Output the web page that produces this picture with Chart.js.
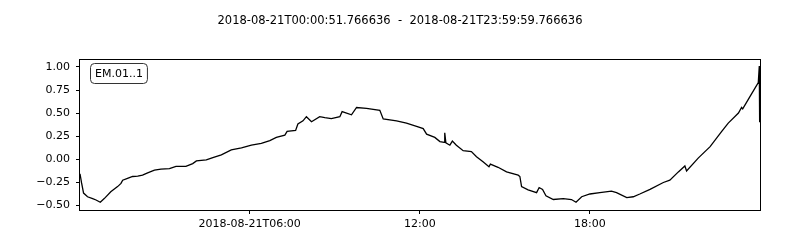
<!DOCTYPE html>
<html><head><meta charset="utf-8">
<script src="https://cdn.jsdelivr.net/npm/chart.js@4"></script>
<style>html,body{margin:0;padding:0;background:#fff}#wrap{width:800px;height:250px}</style>
</head><body><div id="wrap"><canvas id="c" width="800" height="250"></canvas></div>
<script>
const titleText = "2018-08-21T00:00:51.766636  -  2018-08-21T23:59:59.766636";
const traceLabel = "EM.01..1";
const hours = [0.0144,0.07,0.14,0.28,0.46,0.58,0.73,0.87,1.10,1.34,1.46,1.52,1.69,1.87,2.05,2.22,2.40,2.64,2.87,3.17,3.40,3.75,3.99,4.12,4.47,4.70,5.00,5.35,5.71,6.06,6.41,6.71,6.94,7.24,7.32,7.62,7.70,7.88,8.00,8.18,8.47,8.65,8.88,9.18,9.26,9.59,9.77,10.12,10.59,10.71,11.18,11.53,11.94,12.12,12.24,12.53,12.71,12.86,12.88,12.92,13.06,13.15,13.29,13.53,13.82,14.00,14.23,14.44,14.49,14.76,15.06,15.47,15.53,15.59,15.82,16.12,16.21,16.33,16.45,16.71,17.06,17.35,17.51,17.71,18.00,18.35,18.76,18.94,19.30,19.53,19.76,20.12,20.59,20.82,21.12,21.35,21.41,21.82,22.24,22.65,22.88,23.24,23.35,23.39,23.65,23.94,23.975,23.985,23.99];
const values = [-0.16,-0.26,-0.37,-0.41,-0.43,-0.445,-0.47,-0.43,-0.355,-0.30,-0.265,-0.23,-0.21,-0.19,-0.185,-0.175,-0.15,-0.12,-0.11,-0.105,-0.08,-0.08,-0.05,-0.02,-0.01,0.015,0.045,0.10,0.12,0.15,0.17,0.20,0.235,0.26,0.30,0.31,0.38,0.415,0.46,0.405,0.46,0.45,0.44,0.46,0.515,0.48,0.56,0.55,0.53,0.435,0.415,0.39,0.35,0.33,0.27,0.235,0.19,0.18,0.285,0.175,0.15,0.195,0.15,0.09,0.08,0.025,-0.03,-0.085,-0.055,-0.09,-0.14,-0.175,-0.19,-0.30,-0.335,-0.365,-0.31,-0.33,-0.40,-0.44,-0.43,-0.44,-0.47,-0.41,-0.38,-0.365,-0.35,-0.365,-0.42,-0.41,-0.38,-0.33,-0.255,-0.23,-0.14,-0.075,-0.13,0.01,0.135,0.30,0.39,0.50,0.56,0.545,0.68,0.83,1.01,0.40,0.99,0.39];
const xTickHours = [6, 12, 18];
const xTickLabels = ["2018-08-21T06:00", "12:00", "18:00"];
const yTicks = [-0.5, -0.25, 0, 0.25, 0.5, 0.75, 1.0];

const FONT = "'DejaVu Sans', sans-serif";
const frameAndText = {
  id: 'frameAndText',
  afterDraw(chart) {
    const ctx = chart.ctx, a = chart.chartArea;
    ctx.save();
    ctx.strokeStyle = '#000'; ctx.lineWidth = 1;
    ctx.strokeRect(Math.round(a.left) - 0.5, Math.round(a.top) - 0.5, Math.round(a.right - a.left) + 1, Math.round(a.bottom - a.top) + 1);
    ctx.fillStyle = '#000';
    ctx.font = "11.5px " + FONT;
    ctx.textAlign = 'center'; ctx.textBaseline = 'middle';
    ctx.fillText(titleText, 400, 21.5);
    ctx.font = "11px " + FONT;
    const tw = ctx.measureText(traceLabel).width;
    const bx = 90.5, by = 63.5, bw = tw + 9, bh = 20;
    ctx.beginPath();
    ctx.roundRect(bx, by, bw, bh, 4);
    ctx.fillStyle = '#fff'; ctx.fill();
    ctx.strokeStyle = '#333'; ctx.lineWidth = 1; ctx.stroke();
    ctx.fillStyle = '#000'; ctx.textAlign = 'left';
    ctx.fillText(traceLabel, bx + 4.5, by + bh / 2 + 0.5);
    ctx.restore();
  }
};

new Chart(document.getElementById('c'), {
  type: 'line',
  data: { datasets: [{ data: hours.map((h, i) => ({ x: h, y: values[i] })), borderColor: '#000', borderWidth: 1.3, pointRadius: 0, tension: 0, fill: false }] },
  options: {
    responsive: false, animation: false, devicePixelRatio: 1,
    layout: { padding: { top: 60, right: 40, left: 0, bottom: 0 } },
    plugins: { legend: { display: false }, tooltip: { enabled: false }, title: { display: false } },
    scales: {
      x: {
        type: 'linear', min: 0.0144, max: 23.99994,
        afterBuildTicks: s => { s.ticks = xTickHours.map(v => ({ value: v })); },
        afterFit: s => { s.height = 40; },
        ticks: { callback: (v) => { const i = xTickHours.indexOf(v); return i >= 0 ? xTickLabels[i] : ''; }, color: '#000', font: { family: FONT, size: 11 }, padding: 4, maxRotation: 0, autoSkip: false },
        grid: { drawOnChartArea: false, drawTicks: true, tickLength: 4, color: '#000' },
        border: { display: false }
      },
      y: {
        min: -0.554, max: 1.076,
        afterBuildTicks: s => { s.ticks = yTicks.map(v => ({ value: v })); },
        afterFit: s => { s.width = 80; },
        ticks: { callback: v => v.toFixed(2).replace('-', '\u2212'), color: '#000', font: { family: FONT, size: 11 }, padding: 6 },
        grid: { drawOnChartArea: false, drawTicks: true, tickLength: 4, color: '#000' },
        border: { display: false }
      }
    }
  },
  plugins: [frameAndText]
});
</script></body></html>
